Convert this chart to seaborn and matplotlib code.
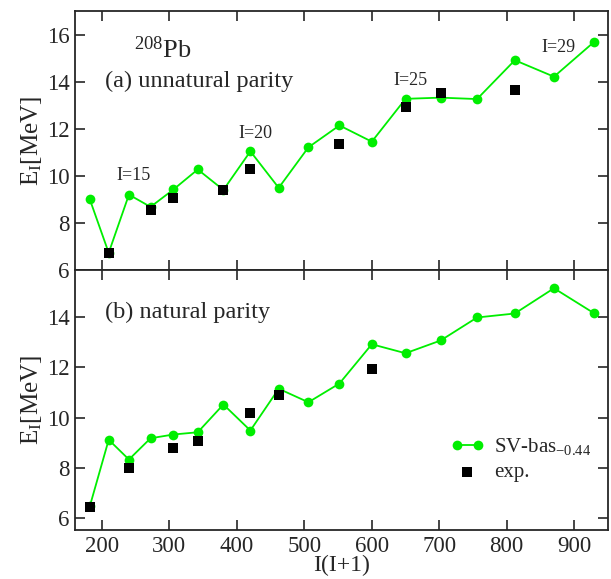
import numpy as np
import pandas as pd
import matplotlib
matplotlib.use("Agg")
import matplotlib.pyplot as plt
import seaborn as sns

# spins and I(I+1)
spins = list(range(13, 31))
ii1 = [i * (i + 1) for i in spins]

# (a) unnatural parity
theory_a = [9.0, 6.73, 9.2, 8.68, 9.42, 10.27, 9.4, 11.04, 9.49, 11.21,
            12.14, 11.45, 13.27, 13.32, 13.26, 14.91, 14.21, 15.7]
exp_a_spin = [14, 16, 17, 19, 20, 23, 25, 26, 28]
exp_a = [6.73, 8.54, 9.04, 9.39, 10.31, 11.34, 12.94, 13.53, 13.66]

# (b) natural parity
theory_b = [6.45, 9.11, 8.32, 9.17, 9.32, 9.41, 10.52, 9.48, 11.15, 10.61,
            11.36, 12.93, 12.57, 13.08, 14.0, 14.16, 15.17, 14.16]
exp_b_spin = [13, 15, 17, 18, 20, 21, 24]
exp_b = [6.41, 7.99, 8.77, 9.07, 10.17, 10.91, 11.92]

spin_labels = [15, 20, 25, 29]

GREEN = "#00ee00"

sns.set_style("ticks")
plt.rcParams["font.family"] = ["Liberation Serif", "DejaVu Serif"]
plt.rcParams["mathtext.fontset"] = "custom"
plt.rcParams["mathtext.rm"] = "Liberation Serif"
plt.rcParams["mathtext.it"] = "Liberation Serif"

fig = plt.figure(figsize=(6.11, 5.79), dpi=100)
ax_a = fig.add_axes([0.1227, 0.5337, 0.8723, 0.4473])
ax_b = fig.add_axes([0.1227, 0.0846, 0.8723, 0.4491], sharex=ax_a)


def draw_panel(ax, theory, exp_spin, exp_vals, legend):
    th = pd.DataFrame({"x": ii1, "y": theory})
    ex = pd.DataFrame({"x": [i * (i + 1) for i in exp_spin], "y": exp_vals})
    sns.lineplot(data=th, x="x", y="y", ax=ax, color=GREEN, lw=1.3,
                 marker="o", markersize=7, markeredgewidth=0,
                 label="SV-bas$_{-0.44}$" if legend else None)
    sns.scatterplot(data=ex, x="x", y="y", ax=ax, color="black", marker="s",
                    s=60, linewidth=0, zorder=5,
                    label="exp." if legend else None)
    ax.set_xlim(160, 950)
    ax.set_xticks(np.arange(200, 1000, 100))
    ax.set_ylabel("E$_{\\rm I}$[MeV]", fontsize=18, labelpad=2)
    ax.tick_params(direction="in", length=7, width=1.2, labelsize=16.5,
                   top=True, right=True, pad=4)
    for sp in ax.spines.values():
        sp.set_linewidth(1.3)


draw_panel(ax_a, theory_a, exp_a_spin, exp_a, False)
draw_panel(ax_b, theory_b, exp_b_spin, exp_b, True)

ax_a.set_ylim(6, 17)
ax_a.set_yticks([6, 8, 10, 12, 14, 16])
ax_a.tick_params(labelbottom=False)
ax_a.set_xlabel("")

ax_b.set_ylim(5.5, 15.9)
ax_b.set_yticks([6, 8, 10, 12, 14])
ax_b.set_xlabel("I(I+1)", fontsize=17, labelpad=-1)

ax_a.text(248, 15.35, "$^{208}$Pb", fontsize=19, va="center")
ax_a.text(204, 14.0, "(a) unnatural parity", fontsize=17.5, va="center")
label_pos = {15: 10.0, 20: 11.8, 25: 14.05, 29: 15.45}
for s in spin_labels:
    ax_a.text(s * (s + 1) - 18, label_pos[s], f"I={s}", fontsize=13, va="center")

ax_b.text(204, 14.2, "(b) natural parity", fontsize=17.5, va="center")

ax_b.legend(loc="upper left", bbox_to_anchor=(0.705, 0.36), frameon=False,
            fontsize=15, numpoints=2, handlelength=1.6, handletextpad=0.5,
            labelspacing=0.25, borderaxespad=0, borderpad=0)

fig.savefig("out.png", dpi=100)
